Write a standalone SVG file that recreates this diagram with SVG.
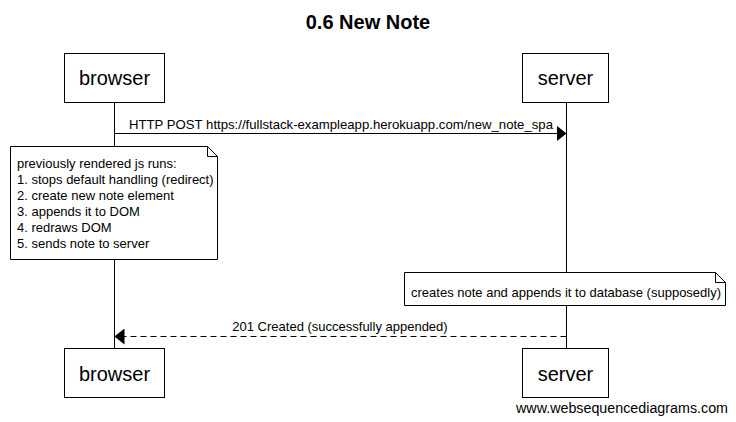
<svg xmlns="http://www.w3.org/2000/svg" width="736" height="422" viewBox="0 0 736 422">
<style>
text { font-family: "Liberation Sans", Arial, sans-serif; fill: #000; }
.title { font-size: 20px; font-weight: bold; text-anchor: middle; }
.actor rect { fill: #fff; stroke: #000; stroke-width: 1; }
.actor text { font-size: 20px; text-anchor: middle; }
.life { stroke: #000; stroke-width: 1; }
.msg { stroke: #000; stroke-width: 1; fill: none; }
.dash { stroke-dasharray: 6,4; }
.lbl { font-size: 13px; text-anchor: middle; }
.note path { fill: #fff; stroke: #000; stroke-width: 1; }
.note text { font-size: 13px; }
.wm { font-size: 14px; text-anchor: end; }
</style>
<defs>
<marker id="ah" viewBox="0 0 10 16" refX="10" refY="8" markerWidth="10" markerHeight="16" markerUnits="userSpaceOnUse" orient="auto">
<path d="M0,0 L10,8 L0,16 Z" fill="#000"/>
</marker>
</defs>
<rect width="736" height="422" fill="#fff"/>
<text class="title" x="368" y="29">0.6 New Note</text>
<g id="lifelines">
<line class="life" x1="114.5" y1="102" x2="114.5" y2="349"/>
<line class="life" x1="566.5" y1="102" x2="566.5" y2="349"/>
</g>
<g id="browser-top" class="actor"><rect x="64.5" y="53.5" width="100" height="49"/><text x="114.5" y="85">browser</text></g>
<g id="server-top" class="actor"><rect x="522.5" y="53.5" width="86" height="49"/><text x="565.5" y="85">server</text></g>
<g id="browser-bottom" class="actor"><rect x="64.5" y="348.5" width="100" height="49"/><text x="114.5" y="381">browser</text></g>
<g id="server-bottom" class="actor"><rect x="522.5" y="348.5" width="86" height="49"/><text x="565.5" y="381">server</text></g>
<g id="connectors">
<line class="msg" x1="114.5" y1="133.5" x2="566.5" y2="133.5" marker-end="url(#ah)"/>
<text class="lbl" x="341" y="129" textLength="424" lengthAdjust="spacingAndGlyphs">HTTP POST https://fullstack-exampleapp.herokuapp.com/new_note_spa</text>
<line class="msg dash" x1="566.5" y1="336.5" x2="114.5" y2="336.5" marker-end="url(#ah)"/>
<text class="lbl" x="340" y="331">201 Created (successfully appended)</text>
</g>
<g id="note-browser" class="note">
<path d="M10.5,146.5 H207.5 L217.5,156.5 V259.5 H10.5 Z M207.5,146.5 V156.5 H217.5"/>
<text x="17" y="168">previously rendered js runs:</text>
<text x="17" y="184">1. stops default handling (redirect)</text>
<text x="17" y="200">2. create new note element</text>
<text x="17" y="216">3. appends it to DOM</text>
<text x="17" y="232">4. redraws DOM</text>
<text x="17" y="248">5. sends note to server</text>
</g>
<g id="note-server" class="note">
<path d="M404.5,272.5 H715.5 L725.5,282.5 V305.5 H404.5 Z M715.5,272.5 V282.5 H725.5"/>
<text x="411" y="297">creates note and appends it to database (supposedly)</text>
</g>
<text class="wm" x="728" y="413" textLength="212" lengthAdjust="spacingAndGlyphs">www.websequencediagrams.com</text>
</svg>
